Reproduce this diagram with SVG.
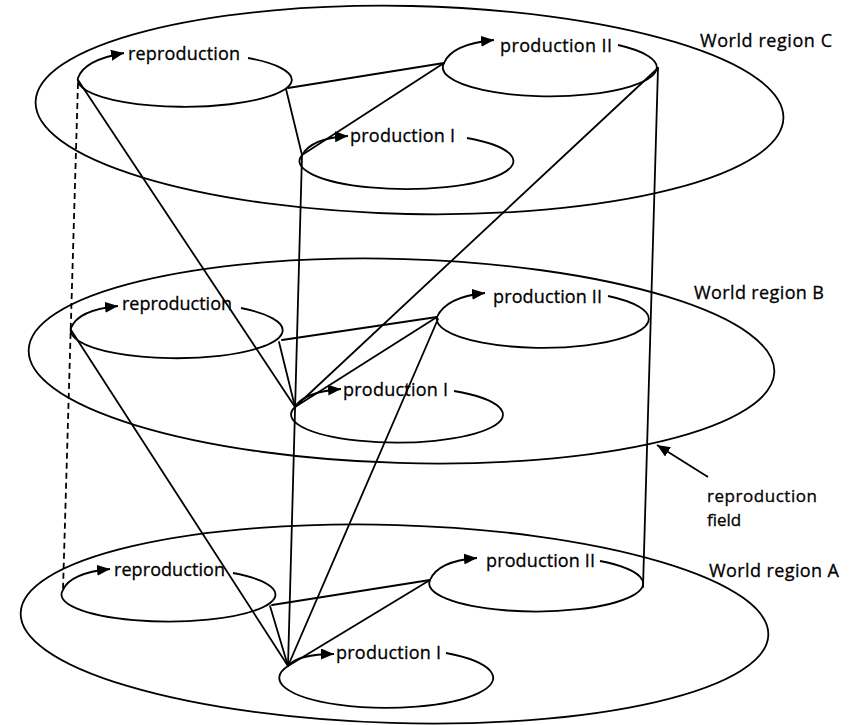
<svg xmlns="http://www.w3.org/2000/svg" width="852" height="725" viewBox="0 0 852 725">
<style>
.ln{fill:none;stroke:#000;stroke-width:1.8;stroke-linecap:round}
.dash{fill:none;stroke:#000;stroke-width:1.8;stroke-dasharray:6,4}
.lp{fill:none;stroke:#000;stroke-width:1.8;marker-end:url(#ah)}
.t{font-family:"Open Sans","Noto Sans",sans-serif;font-size:18px;fill:#000;stroke:#000;stroke-width:0.3}
.s{font-size:17px}
</style>
<defs>
<marker id="ah" markerWidth="13" markerHeight="11" refX="13" refY="5.5" orient="auto" markerUnits="userSpaceOnUse"><path d="M0,0 L13,5.5 L0,11 z" fill="#000"/></marker>
</defs>
<rect width="852" height="725" fill="#fff"/>
<g id="regions">
<g id="regionC"><ellipse class="ln" cx="409.5" cy="110" rx="374" ry="104" transform="rotate(1.23 409.5 110)"/><text class="t" x="700" y="47" textLength="132">World region C</text></g>
<g id="regionB"><ellipse class="ln" cx="401.5" cy="361" rx="373" ry="102" transform="rotate(1.69 401.5 361)"/><text class="t" x="694" y="299" textLength="130">World region B</text></g>
<g id="regionA"><ellipse class="ln" cx="394.5" cy="624" rx="374" ry="99" transform="rotate(1.69 394.5 624)"/><text class="t" x="709" y="577" textLength="130">World region A</text></g>
</g>
<g id="connectors">
<path class="ln" d="M78,80 L295,407"/>
<path class="ln" d="M286,89 L302,155"/>
<path class="ln" d="M288,88 L444,63"/>
<path class="ln" d="M444,63 L302,155"/>
<path class="ln" d="M658,68 L295,407"/>
<path class="ln" d="M658,68 L643,587"/>
<path class="ln" d="M302,155 L288,666"/>
<path class="ln" d="M71,330 L288,666"/>
<path class="ln" d="M279,342 L295,407"/>
<path class="ln" d="M282,340 L437,317"/>
<path class="ln" d="M437,317 L295,407"/>
<path class="ln" d="M438,319 L288,666"/>
<path class="ln" d="M270,606 L288,666"/>
<path class="ln" d="M272,605 L430,580"/>
<path class="ln" d="M430,580 L288,666"/>
<path class="dash" d="M78,83 L63,590"/>
<path class="lp" d="M708,477 L657,445"/>
</g>
<g id="C-reproduction"><path class="lp" d="M248,58 A107,27 0 1 1 78,78 Q84,60 124,53"/><text class="t" x="128" y="60" textLength="112">reproduction</text></g>
<g id="C-productionII"><path class="lp" d="M618,45 A107,29 0 1 1 444,63 Q452,44 494,40"/><text class="t" x="500" y="52" textLength="112">production II</text></g>
<g id="C-productionI"><path class="lp" d="M467,138 A107,28 0 1 1 302,155 Q312,138 348,136"/><text class="t" x="350" y="142" textLength="105">production I</text></g>
<g id="B-reproduction"><path class="lp" d="M241,308 A106,28 0 1 1 71,328 Q78,310 118,306"/><text class="t" x="122" y="310" textLength="110">reproduction</text></g>
<g id="B-productionII"><path class="lp" d="M608,296 A106,29 0 1 1 437,317 Q446,297 485,293"/><text class="t" x="493" y="303" textLength="109">production II</text></g>
<g id="B-productionI"><path class="lp" d="M454,391 A106,28 0 1 1 295,407 Q304,392 341,389"/><text class="t" x="343" y="396" textLength="105">production I</text></g>
<g id="A-reproduction"><path class="lp" d="M233,573 A107,27 0 1 1 63,590 Q70,573 110,569"/><text class="t" x="114" y="576" textLength="111">reproduction</text></g>
<g id="A-productionII"><path class="lp" d="M600,561 A107,28 0 1 1 430,580 Q438,561 477,558"/><text class="t" x="486" y="567" textLength="109">production II</text></g>
<g id="A-productionI"><path class="lp" d="M446,653 A107,30 0 1 1 288,666 Q298,654 334,654"/><text class="t" x="336" y="659" textLength="105">production I</text></g>
<g id="field-label"><text class="t s" x="707" y="502" textLength="110">reproduction</text><text class="t s" x="707" y="526">field</text></g>
</svg>
